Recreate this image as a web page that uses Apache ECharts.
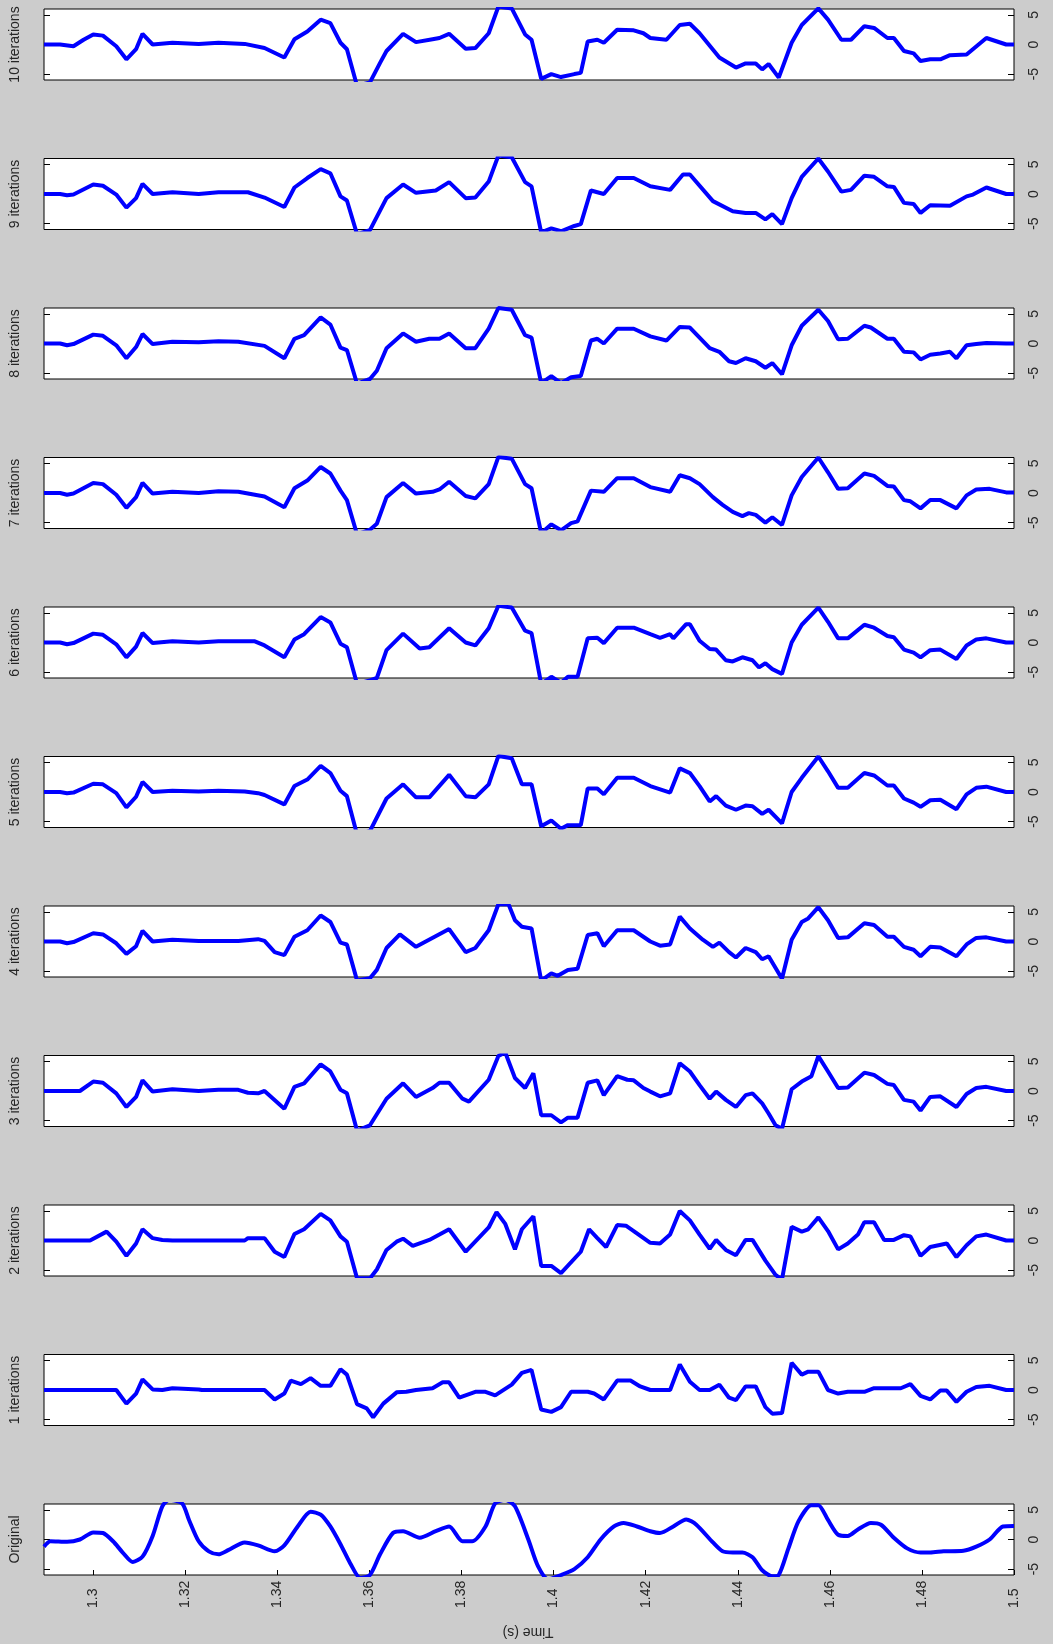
<!DOCTYPE html>
<html>
<head>
<meta charset="utf-8">
<script src="https://cdn.jsdelivr.net/npm/echarts@6/dist/echarts.min.js"></script>
<style>
html,body{margin:0;padding:0;background:#cccccc;}
#c{width:1053px;height:1644px;}
</style>
</head>
<body>
<div id="c"></div>
<script>
// ---- data ----
const panelNames = ['10 iterations','9 iterations','8 iterations','7 iterations','6 iterations','5 iterations','4 iterations','3 iterations','2 iterations','1 iterations','Original'];
const xTicks = [1.3,1.32,1.34,1.36,1.38,1.4,1.42,1.44,1.46,1.48,1.5];
const yTicks = [-5,0,5];
const xLabel = 'Time (s)';

const it10 = [[1.2893,0],[1.2928,0],[1.2957,-0.3],[1.2979,0.8],[1.3000,1.7],[1.3021,1.5],[1.3050,-0.3],[1.3072,-2.5],[1.3093,-0.8],[1.3107,1.8],[1.3129,0],[1.3172,0.3],[1.3229,0.1],[1.3272,0.3],[1.3329,0.1],[1.3372,-0.6],[1.3415,-2.2],[1.3437,0.9],[1.3465,2.2],[1.3494,4.2],[1.3515,3.6],[1.3537,0.3],[1.3551,-0.8],[1.3573,-7],[1.3601,-6.4],[1.3623,-3.1],[1.3637,-1.1],[1.3673,1.8],[1.3701,0.4],[1.3737,0.9],[1.3752,1.1],[1.3773,1.8],[1.3809,-0.7],[1.3830,-0.6],[1.3859,1.9],[1.3880,6.4],[1.3909,6.1],[1.3938,1.7],[1.3952,0.8],[1.3973,-5.8],[1.3995,-5.0],[1.4016,-5.5],[1.4045,-5.0],[1.4059,-4.8],[1.4074,0.5],[1.4095,0.8],[1.4109,0.3],[1.4138,2.5],[1.4174,2.4],[1.4195,1.9],[1.4210,1.1],[1.4245,0.8],[1.4274,3.3],[1.4296,3.5],[1.4317,1.9],[1.4360,-2.2],[1.4396,-3.9],[1.4417,-3.2],[1.4439,-3.2],[1.4453,-4.2],[1.4467,-3.3],[1.4489,-5.6],[1.4517,0.3],[1.4539,3.3],[1.4575,6.1],[1.4596,4.2],[1.4625,0.8],[1.4646,0.8],[1.4675,3.1],[1.4696,2.8],[1.4725,1.1],[1.4739,1.1],[1.4761,-1.1],[1.4782,-1.5],[1.4797,-2.8],[1.4818,-2.5],[1.4840,-2.5],[1.4861,-1.8],[1.4897,-1.7],[1.4940,1.1],[1.4983,0],[1.5,0]];
const it9 = [[1.2893,0],[1.2928,0],[1.2943,-0.2],[1.2957,-0.1],[1.3000,1.6],[1.3021,1.4],[1.3050,-0.1],[1.3072,-2.3],[1.3093,-0.7],[1.3107,1.7],[1.3129,0],[1.3172,0.3],[1.3229,0],[1.3272,0.3],[1.3336,0.3],[1.3372,-0.6],[1.3415,-2.2],[1.3437,1.1],[1.3465,2.7],[1.3494,4.2],[1.3515,3.5],[1.3537,-0.4],[1.3551,-1.1],[1.3573,-6.8],[1.3601,-6.1],[1.3637,-0.7],[1.3673,1.6],[1.3701,0.2],[1.3744,0.6],[1.3773,2.0],[1.3809,-0.7],[1.3830,-0.6],[1.3859,2.1],[1.3880,6.5],[1.3909,6.2],[1.3938,2.0],[1.3952,1.3],[1.3973,-6.5],[1.3995,-5.8],[1.4016,-6.3],[1.4045,-5.4],[1.4059,-5.1],[1.4081,0.6],[1.4109,0],[1.4138,2.7],[1.4174,2.7],[1.4210,1.3],[1.4253,0.7],[1.4281,3.3],[1.4296,3.3],[1.4346,-1.2],[1.4389,-2.9],[1.4417,-3.2],[1.4439,-3.2],[1.4460,-4.3],[1.4475,-3.4],[1.4496,-5.1],[1.4517,-0.7],[1.4539,2.9],[1.4575,6],[1.4596,3.8],[1.4625,0.4],[1.4646,0.7],[1.4675,3.1],[1.4696,2.9],[1.4725,1.3],[1.4739,1.2],[1.4761,-1.5],[1.4782,-1.7],[1.4797,-3.2],[1.4818,-1.9],[1.4861,-2.0],[1.4897,-0.4],[1.4911,-0.1],[1.4940,1.1],[1.4983,0],[1.5,0]];
const it8 = [[1.2893,0],[1.2928,0],[1.2943,-0.3],[1.2957,-0.1],[1.3000,1.5],[1.3021,1.3],[1.3050,-0.3],[1.3072,-2.5],[1.3093,-0.6],[1.3107,1.6],[1.3129,-0.1],[1.3172,0.3],[1.3229,0.2],[1.3272,0.4],[1.3315,0.3],[1.3372,-0.4],[1.3415,-2.5],[1.3437,0.8],[1.3458,1.4],[1.3494,4.4],[1.3515,3.2],[1.3537,-0.7],[1.3551,-1.1],[1.3573,-6.8],[1.3601,-6.0],[1.3616,-4.6],[1.3637,-0.8],[1.3673,1.7],[1.3701,0.3],[1.3730,0.8],[1.3752,0.8],[1.3773,1.7],[1.3809,-0.8],[1.3830,-0.8],[1.3859,2.5],[1.3880,6],[1.3909,5.7],[1.3938,1.4],[1.3952,1.0],[1.3973,-6.7],[1.3995,-5.5],[1.4016,-6.7],[1.4038,-5.7],[1.4059,-5.5],[1.4081,0.5],[1.4095,0.8],[1.4109,0],[1.4138,2.5],[1.4174,2.5],[1.4210,1.2],[1.4245,0.5],[1.4274,2.8],[1.4296,2.7],[1.4339,-0.8],[1.4360,-1.4],[1.4381,-3],[1.4396,-3.3],[1.4417,-2.5],[1.4439,-3],[1.4460,-4.1],[1.4475,-3.3],[1.4496,-5.2],[1.4517,-0.3],[1.4539,3],[1.4575,5.7],[1.4596,3.8],[1.4618,0.7],[1.4639,0.8],[1.4675,3],[1.4689,2.7],[1.4725,0.8],[1.4739,0.8],[1.4761,-1.4],[1.4782,-1.5],[1.4797,-2.7],[1.4818,-1.9],[1.4840,-1.7],[1.4861,-1.4],[1.4875,-2.5],[1.4897,-0.3],[1.4918,-0.1],[1.4940,0.1],[1.4983,0],[1.5,0]];
const it7 = [[1.2893,0],[1.2928,0],[1.2943,-0.3],[1.2957,-0.1],[1.3000,1.7],[1.3021,1.5],[1.3050,-0.3],[1.3072,-2.5],[1.3093,-0.7],[1.3107,1.7],[1.3129,-0.1],[1.3172,0.2],[1.3229,0],[1.3272,0.3],[1.3315,0.2],[1.3372,-0.6],[1.3415,-2.4],[1.3437,0.8],[1.3465,2.1],[1.3494,4.4],[1.3515,3.3],[1.3537,0.4],[1.3551,-1.2],[1.3573,-7],[1.3601,-6.2],[1.3616,-5.2],[1.3637,-0.7],[1.3673,1.7],[1.3701,-0.1],[1.3737,0.2],[1.3752,0.6],[1.3773,1.9],[1.3809,-0.5],[1.3830,-0.9],[1.3859,1.5],[1.3880,6.1],[1.3909,5.8],[1.3938,1.5],[1.3952,0.8],[1.3973,-6.8],[1.3995,-5.3],[1.4016,-6.3],[1.4038,-5.1],[1.4052,-4.8],[1.4081,0.4],[1.4109,0.2],[1.4138,2.5],[1.4174,2.5],[1.4210,1],[1.4253,0.2],[1.4274,3],[1.4296,2.5],[1.4317,1.5],[1.4346,-0.7],[1.4367,-2.0],[1.4389,-3.2],[1.4410,-3.9],[1.4424,-3.4],[1.4439,-3.7],[1.4460,-5.0],[1.4475,-4.1],[1.4496,-5.4],[1.4517,-0.4],[1.4539,2.7],[1.4575,6],[1.4596,3.5],[1.4618,0.7],[1.4639,0.8],[1.4675,3.3],[1.4696,2.9],[1.4725,1.2],[1.4739,1.1],[1.4761,-1.2],[1.4775,-1.4],[1.4797,-2.6],[1.4818,-1.2],[1.4840,-1.2],[1.4875,-2.6],[1.4897,-0.4],[1.4918,0.6],[1.4947,0.7],[1.4983,0.1],[1.5,0.1]];
const it6 = [[1.2893,0],[1.2928,0],[1.2943,-0.3],[1.2957,-0.1],[1.3000,1.5],[1.3021,1.3],[1.3050,-0.3],[1.3072,-2.5],[1.3093,-0.7],[1.3107,1.6],[1.3129,-0.1],[1.3172,0.2],[1.3229,0],[1.3272,0.2],[1.3351,0.2],[1.3372,-0.5],[1.3415,-2.5],[1.3437,0.5],[1.3458,1.4],[1.3494,4.3],[1.3515,3.4],[1.3537,-0.2],[1.3551,-0.8],[1.3573,-7],[1.3601,-6.4],[1.3616,-6],[1.3637,-1.3],[1.3673,1.5],[1.3709,-1.0],[1.3730,-0.8],[1.3773,2.4],[1.3809,0],[1.3830,-0.5],[1.3859,2.4],[1.3880,6.2],[1.3909,5.9],[1.3938,2],[1.3952,1.6],[1.3973,-7],[1.3995,-5.8],[1.4016,-6.8],[1.4031,-5.8],[1.4052,-5.8],[1.4074,0.7],[1.4095,0.8],[1.4109,-0.1],[1.4138,2.5],[1.4174,2.5],[1.4210,1.4],[1.4231,0.8],[1.4253,1.4],[1.4260,0.7],[1.4288,3.1],[1.4296,3.1],[1.4317,0.3],[1.4339,-1.1],[1.4353,-1.2],[1.4374,-3.0],[1.4389,-3.2],[1.4410,-2.5],[1.4432,-3.0],[1.4446,-4.2],[1.4460,-3.5],[1.4475,-4.5],[1.4496,-5.3],[1.4517,0],[1.4539,3],[1.4575,5.9],[1.4596,3.5],[1.4618,0.7],[1.4639,0.7],[1.4675,3],[1.4696,2.5],[1.4725,1.1],[1.4739,0.9],[1.4761,-1.2],[1.4782,-1.7],[1.4797,-2.5],[1.4818,-1.3],[1.4840,-1.2],[1.4875,-2.8],[1.4897,-0.5],[1.4918,0.5],[1.4940,0.7],[1.4983,0],[1.5,0]];
const it5 = [[1.2893,0],[1.2928,0],[1.2943,-0.2],[1.2957,-0.1],[1.3000,1.4],[1.3021,1.3],[1.3050,-0.2],[1.3072,-2.6],[1.3093,-0.8],[1.3107,1.7],[1.3129,0],[1.3172,0.2],[1.3229,0.1],[1.3272,0.2],[1.3329,0.1],[1.3358,-0.2],[1.3372,-0.5],[1.3415,-2.1],[1.3437,1],[1.3465,2.1],[1.3494,4.4],[1.3515,3.2],[1.3537,0.2],[1.3551,-0.7],[1.3573,-7.2],[1.3601,-6.6],[1.3637,-1.1],[1.3673,1.3],[1.3701,-0.9],[1.3730,-0.9],[1.3773,2.9],[1.3809,-0.7],[1.3830,-0.9],[1.3859,1.3],[1.3880,6.1],[1.3909,5.7],[1.3931,1.3],[1.3952,1.3],[1.3973,-5.8],[1.3995,-4.8],[1.4016,-6.2],[1.4031,-5.6],[1.4059,-5.6],[1.4074,0.6],[1.4095,0.6],[1.4109,-0.4],[1.4138,2.4],[1.4174,2.4],[1.4210,1],[1.4253,-0.1],[1.4274,4],[1.4296,3.2],[1.4317,1],[1.4339,-1.6],[1.4353,-0.7],[1.4374,-2.3],[1.4396,-3.0],[1.4417,-2.3],[1.4432,-2.4],[1.4453,-3.7],[1.4467,-3.0],[1.4496,-5.3],[1.4517,0],[1.4539,2.4],[1.4575,6],[1.4596,3.5],[1.4618,0.7],[1.4639,0.7],[1.4675,3.2],[1.4696,2.8],[1.4725,1.1],[1.4739,1.1],[1.4761,-1.1],[1.4782,-1.8],[1.4797,-2.5],[1.4818,-1.4],[1.4840,-1.3],[1.4875,-2.9],[1.4897,-0.4],[1.4918,0.7],[1.4940,0.9],[1.4983,0],[1.5,0]];
const it4 = [[1.2893,0],[1.2928,0],[1.2943,-0.3],[1.2957,-0.1],[1.3000,1.4],[1.3021,1.2],[1.3050,-0.3],[1.3072,-2.1],[1.3093,-0.8],[1.3107,1.8],[1.3129,0],[1.3172,0.3],[1.3229,0.1],[1.3272,0.1],[1.3315,0.1],[1.3358,0.4],[1.3372,0.1],[1.3394,-1.8],[1.3415,-2.3],[1.3437,0.8],[1.3465,1.9],[1.3494,4.4],[1.3515,3.3],[1.3537,-0.2],[1.3551,-0.5],[1.3573,-6.6],[1.3601,-6.2],[1.3616,-4.8],[1.3637,-1.1],[1.3666,1.2],[1.3701,-0.9],[1.3773,2.1],[1.3809,-1.8],[1.3830,-1.1],[1.3859,1.9],[1.3880,6.3],[1.3902,6.3],[1.3916,3.6],[1.3931,2.5],[1.3952,2.2],[1.3973,-6.6],[1.3995,-5.4],[1.4009,-5.8],[1.4031,-4.8],[1.4052,-4.6],[1.4074,1.1],[1.4095,1.4],[1.4109,-0.8],[1.4138,1.9],[1.4174,1.9],[1.4210,0],[1.4231,-0.7],[1.4253,-0.5],[1.4274,4.2],[1.4296,2.2],[1.4324,0.3],[1.4346,-0.9],[1.4360,-0.2],[1.4381,-1.8],[1.4396,-2.7],[1.4417,-1.1],[1.4439,-1.8],[1.4453,-3],[1.4467,-2.5],[1.4496,-6.3],[1.4517,0.3],[1.4539,3.3],[1.4553,3.9],[1.4575,5.8],[1.4596,3.6],[1.4618,0.6],[1.4639,0.7],[1.4675,3.1],[1.4696,2.8],[1.4725,0.8],[1.4739,0.8],[1.4761,-0.9],[1.4782,-1.4],[1.4797,-2.5],[1.4818,-0.9],[1.4840,-1],[1.4875,-2.5],[1.4897,-0.5],[1.4918,0.6],[1.4940,0.7],[1.4983,0],[1.5,0]];
const it3 = [[1.2893,0],[1.2971,0],[1.3000,1.6],[1.3021,1.4],[1.3050,-0.4],[1.3072,-2.7],[1.3093,-1],[1.3107,1.8],[1.3129,-0.1],[1.3172,0.3],[1.3229,0],[1.3272,0.2],[1.3315,0.2],[1.3336,-0.3],[1.3358,-0.4],[1.3372,0],[1.3415,-3],[1.3437,0.7],[1.3458,1.3],[1.3494,4.5],[1.3515,3.3],[1.3537,0.2],[1.3551,-0.4],[1.3573,-6.7],[1.3601,-5.8],[1.3637,-1.3],[1.3673,1.3],[1.3701,-1],[1.3737,0.5],[1.3752,1.4],[1.3773,1.4],[1.3802,-1.3],[1.3816,-1.8],[1.3859,1.9],[1.3880,5.9],[1.3895,6.5],[1.3916,2.2],[1.3938,0.5],[1.3956,3],[1.3973,-4.1],[1.3995,-4.1],[1.4016,-5.3],[1.4031,-4.5],[1.4052,-4.5],[1.4074,1.4],[1.4095,1.8],[1.4109,-0.7],[1.4138,2.5],[1.4160,1.9],[1.4174,1.8],[1.4195,0.5],[1.4210,-0.1],[1.4231,-0.9],[1.4253,-0.4],[1.4274,4.7],[1.4296,3.3],[1.4317,1],[1.4339,-1.3],[1.4353,-0.1],[1.4374,-1.5],[1.4396,-2.7],[1.4417,-0.7],[1.4432,-0.4],[1.4453,-2.1],[1.4467,-3.8],[1.4482,-5.8],[1.4496,-6.4],[1.4517,0.3],[1.4539,1.6],[1.4560,2.5],[1.4575,5.9],[1.4596,3.3],[1.4618,0.5],[1.4639,0.6],[1.4675,3.1],[1.4696,2.7],[1.4725,1.2],[1.4739,1],[1.4761,-1.5],[1.4782,-1.8],[1.4797,-3.3],[1.4818,-1],[1.4840,-0.9],[1.4875,-2.7],[1.4897,-0.5],[1.4918,0.5],[1.4940,0.7],[1.4983,0],[1.5,0]];
const it2 = [[1.2893,0],[1.2993,0],[1.3029,1.5],[1.3050,-0.2],[1.3072,-2.6],[1.3093,-0.5],[1.3107,1.9],[1.3129,0.4],[1.3150,0.1],[1.3172,0],[1.3329,0],[1.3336,0.4],[1.3372,0.4],[1.3394,-1.9],[1.3415,-2.8],[1.3437,1.1],[1.3458,1.9],[1.3494,4.5],[1.3515,3.4],[1.3537,0.7],[1.3551,-0.2],[1.3573,-6.4],[1.3601,-6.4],[1.3616,-4.9],[1.3637,-1.6],[1.3659,-0.2],[1.3673,0.3],[1.3694,-0.9],[1.3730,0.1],[1.3752,1],[1.3773,1.9],[1.3809,-1.9],[1.3859,2.2],[1.3876,4.8],[1.3895,2.8],[1.3916,-1.5],[1.3931,1.9],[1.3956,4.1],[1.3973,-4.3],[1.3995,-4.3],[1.4016,-5.5],[1.4059,-1.9],[1.4077,1.9],[1.4095,0.4],[1.4114,-1.1],[1.4138,2.6],[1.4157,2.5],[1.4174,1.6],[1.4210,-0.4],[1.4231,-0.5],[1.4253,1],[1.4274,5],[1.4296,3.4],[1.4317,1],[1.4339,-1.4],[1.4353,0.1],[1.4374,-1.6],[1.4396,-2.5],[1.4417,0.1],[1.4432,0.1],[1.4460,-3.4],[1.4482,-5.8],[1.4496,-6.6],[1.4517,2.3],[1.4539,1.5],[1.4553,1.9],[1.4575,3.9],[1.4596,1.6],[1.4618,-1.5],[1.4639,-0.5],[1.4661,1],[1.4675,3.1],[1.4696,3.1],[1.4718,0.1],[1.4739,0.1],[1.4761,0.9],[1.4775,0.7],[1.4797,-2.6],[1.4818,-1.1],[1.4854,-0.5],[1.4875,-2.8],[1.4897,-0.8],[1.4918,0.7],[1.4940,1],[1.4983,0],[1.5,0]];
const it1 = [[1.2893,0],[1.3050,0],[1.3072,-2.3],[1.3093,-0.6],[1.3107,1.8],[1.3129,0.1],[1.3150,0],[1.3172,0.3],[1.3229,0.1],[1.3236,0],[1.3372,0],[1.3394,-1.6],[1.3415,-0.6],[1.3429,1.6],[1.3451,1],[1.3472,2],[1.3494,0.7],[1.3515,0.7],[1.3537,3.5],[1.3551,2.6],[1.3573,-2.4],[1.3594,-3.1],[1.3608,-4.6],[1.3630,-2.3],[1.3659,-0.4],[1.3680,-0.3],[1.3701,0],[1.3737,0.3],[1.3759,1.3],[1.3773,1.3],[1.3795,-1.3],[1.3830,-0.3],[1.3852,-0.3],[1.3873,-0.9],[1.3909,0.9],[1.3931,2.9],[1.3952,3.4],[1.3973,-3.3],[1.3995,-3.7],[1.4016,-2.9],[1.4038,-0.3],[1.4074,-0.3],[1.4088,-0.6],[1.4109,-1.6],[1.4138,1.6],[1.4167,1.6],[1.4188,0.6],[1.4210,0],[1.4253,0],[1.4274,4.3],[1.4296,1.4],[1.4317,0],[1.4339,0],[1.4360,0.9],[1.4381,-1.3],[1.4396,-1.7],[1.4417,0.6],[1.4439,0.6],[1.4460,-2.9],[1.4475,-4],[1.4496,-3.9],[1.4517,4.6],[1.4539,2.6],[1.4553,3.1],[1.4575,3.1],[1.4596,0],[1.4618,-0.6],[1.4639,-0.3],[1.4675,-0.3],[1.4696,0.3],[1.4754,0.3],[1.4775,1],[1.4797,-1],[1.4818,-1.6],[1.4840,-0.1],[1.4854,-0.1],[1.4875,-2],[1.4897,-0.3],[1.4918,0.5],[1.4947,0.7],[1.4983,0],[1.5,0]];
const original = [[1.2893,-1.2],[1.2907,-0.3],[1.2943,-0.4],[1.2971,0],[1.3000,1.2],[1.3021,1.1],[1.3043,-0.3],[1.3064,-2.2],[1.3086,-3.8],[1.3107,-2.9],[1.3129,0.6],[1.3150,5.6],[1.3165,6.7],[1.3193,6.1],[1.3208,3.3],[1.3229,-0.3],[1.3251,-2],[1.3272,-2.5],[1.3293,-1.8],[1.3329,-0.5],[1.3358,-1],[1.3394,-2],[1.3415,-1],[1.3444,2.2],[1.3472,4.7],[1.3494,4.2],[1.3515,2.2],[1.3537,-0.8],[1.3558,-4],[1.3580,-6.5],[1.3601,-6],[1.3623,-2.5],[1.3651,1.1],[1.3673,1.4],[1.3709,0.3],[1.3744,1.4],[1.3773,2.2],[1.3802,-0.3],[1.3823,-0.3],[1.3852,2.2],[1.3873,6.1],[1.3895,6.7],[1.3916,5.6],[1.3945,0],[1.3966,-4.5],[1.3988,-6.7],[1.4016,-6],[1.4045,-5],[1.4074,-3],[1.4102,0],[1.4131,2.2],[1.4152,2.8],[1.4181,2.2],[1.4210,1.4],[1.4231,1.1],[1.4260,2.2],[1.4288,3.4],[1.4310,2.5],[1.4346,-0.5],[1.4367,-2],[1.4389,-2.2],[1.4410,-2.2],[1.4432,-3],[1.4453,-5.2],[1.4475,-6.2],[1.4489,-6],[1.4510,-1.5],[1.4532,3.1],[1.4560,5.8],[1.4575,5.8],[1.4596,3.3],[1.4618,0.8],[1.4639,0.6],[1.4661,1.7],[1.4689,2.8],[1.4711,2.5],[1.4739,0.3],[1.4768,-1.5],[1.4797,-2.2],[1.4818,-2.2],[1.4847,-2],[1.4890,-1.9],[1.4918,-1.2],[1.4947,0],[1.4976,2.2],[1.5,2.3]];
const panelData = [it10,it9,it8,it7,it6,it5,it4,it3,it2,it1,original];

// ---- layout ----
const FONT = 'Liberation Sans';
const TXT = '#262626';
const grids = [], xAxes = [], yAxes = [], series = [];
const N = panelNames.length;
for (let i = 0; i < N; i++) {
  const last = i === N - 1;
  grids.push({left: 43, width: 971, top: 9 + 149.5 * i, height: 71, show: true,
    backgroundColor: '#ffffff', borderColor: '#000000', borderWidth: 1, containLabel: false});
  xAxes.push({type: 'value', gridIndex: i, position: 'bottom', min: 1.2893, max: 1.5,
    axisLine: {show: false, onZero: false}, splitLine: {show: false},
    axisTick: {show: last, inside: true, length: 5, customValues: xTicks, lineStyle: {color: '#000'}},
    axisLabel: {show: last, customValues: xTicks, rotate: 90, align: 'left', margin: 33,
      fontFamily: FONT, fontSize: 14, color: TXT,
      formatter: v => String(+(+v).toFixed(2))}});
  yAxes.push({type: 'value', gridIndex: i, position: 'right', min: -6, max: 6,
    axisLine: {show: false, onZero: false}, splitLine: {show: false},
    axisTick: {show: true, inside: true, length: 6, customValues: yTicks, lineStyle: {color: '#000'}},
    axisLabel: {show: true, customValues: yTicks, rotate: 90, margin: 13,
      fontFamily: FONT, fontSize: 14, color: TXT}});
  yAxes.push({type: 'value', gridIndex: i, position: 'left', min: -6, max: 6,
    axisLine: {show: false, onZero: false}, splitLine: {show: false},
    axisTick: {show: true, inside: true, length: 6, customValues: yTicks, lineStyle: {color: '#000'}},
    axisLabel: {show: false},
    name: panelNames[i], nameLocation: 'middle', nameRotate: 90, nameGap: 22,
    nameTextStyle: {fontFamily: FONT, fontSize: 14, color: TXT}});
  series.push({type: 'line', xAxisIndex: i, yAxisIndex: 2 * i, data: panelData[i],
    showSymbol: false, symbol: 'none', clip: true, animation: false,
    smooth: last ? 0.25 : false,
    lineStyle: {color: '#0000ff', width: 4}});
}

const chart = echarts.init(document.getElementById('c'), null, {renderer: 'canvas'});
chart.setOption({
  backgroundColor: '#cccccc',
  animation: false,
  grid: grids, xAxis: xAxes, yAxis: yAxes, series: series,
  graphic: [{type: 'text', x: 528, y: 1632, rotation: Math.PI,
    style: {text: xLabel, fontFamily: FONT, fontSize: 14, fill: TXT, align: 'center', verticalAlign: 'middle'}}]
});
</script>
</body>
</html>
